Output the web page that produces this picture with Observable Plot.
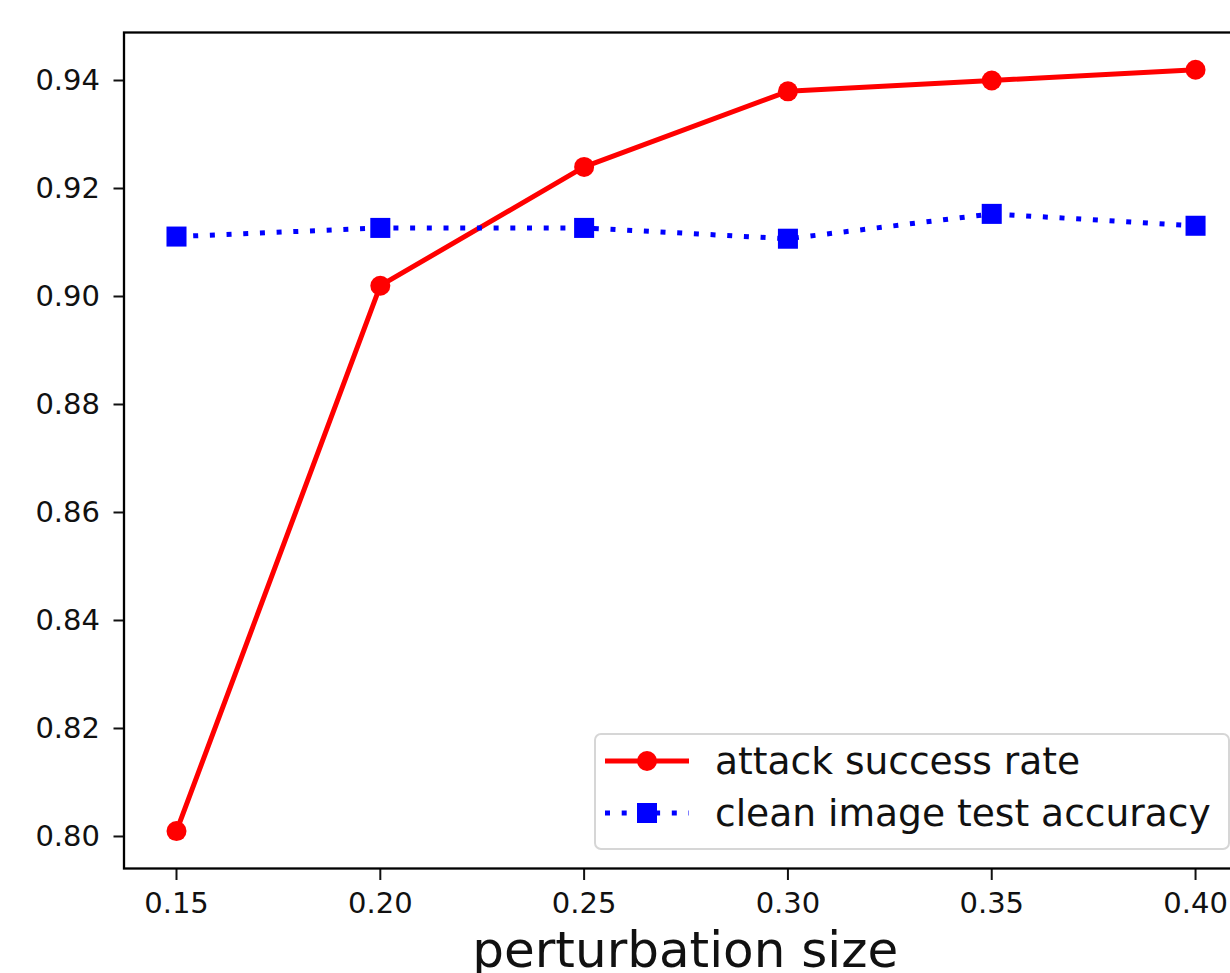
<!DOCTYPE html>
<html>
<head>
<meta charset="utf-8">
<script src="https://cdn.jsdelivr.net/npm/d3@7"></script>
<script src="https://cdn.jsdelivr.net/npm/@observablehq/plot@0.6"></script>
<style>
  html, body { margin: 0; padding: 0; background: white; overflow: hidden; }
  #wrap { position: relative; width: 1230px; height: 973px; overflow: hidden; font-family: "DejaVu Sans", sans-serif; }
  #legend { position: absolute; left: 594px; top: 733px; width: 632px; height: 113px; border: 2px solid #d6d6d6; border-radius: 7px; background: rgba(255,255,255,0.8); box-sizing: content-box; }
  .row { position: absolute; left: 0; height: 52px; display: flex; align-items: center; }
  .row svg { margin-left: 9px; }
  .row span { position: absolute; left: 119px; font-size: 37.6px; color: #111; white-space: nowrap; line-height: 52px; top: 0; }
</style>
</head>
<body>
<div id="wrap"></div>
<script>
// ---- data ----
const perturbation = [0.15, 0.20, 0.25, 0.30, 0.35, 0.40];
const attackSuccessRate = [0.801, 0.902, 0.924, 0.938, 0.940, 0.942];
const cleanTestAccuracy = [0.9111, 0.9127, 0.9127, 0.9107, 0.9153, 0.9131];
const xTicks = [0.15, 0.20, 0.25, 0.30, 0.35, 0.40];
const yTicks = [0.80, 0.82, 0.84, 0.86, 0.88, 0.90, 0.92, 0.94];
const seriesNames = ["attack success rate", "clean image test accuracy"];
const seriesColors = ["#ff0000", "#0000ff"];
const xLabel = "perturbation size";

const attack = perturbation.map((x, i) => ({x, y: attackSuccessRate[i]}));
const clean = perturbation.map((x, i) => ({x, y: cleanTestAccuracy[i]}));
const fmt = d => d.toFixed(2);

const chart = Plot.plot({
  width: 1230,
  height: 973,
  marginLeft: 123.5,
  marginRight: -16,
  marginTop: 32,
  marginBottom: 105,
  style: {fontFamily: "DejaVu Sans", fontSize: "29px", color: "#111", background: "white", overflow: "hidden"},
  x: {domain: [0.13712, 0.4125]},
  y: {domain: [0.79407, 0.94889]},
  marks: [
    Plot.axisX({ticks: xTicks, tickFormat: fmt, tickSize: 12, tickPadding: 12, strokeWidth: 2, label: null, fill: "#111"}),
    Plot.axisY({ticks: yTicks, tickFormat: fmt, tickSize: 10, tickPadding: 14, strokeWidth: 2, label: null, fill: "#111"}),
    Plot.line(attack, {x: "x", y: "y", stroke: seriesColors[0], strokeWidth: 5, strokeLinejoin: "round"}),
    Plot.line(clean, {x: "x", y: "y", stroke: seriesColors[1], strokeWidth: 5, strokeDasharray: "5,11.7", strokeLinecap: "butt"}),
    Plot.dot(attack, {x: "x", y: "y", r: 10, fill: seriesColors[0], symbol: "circle"}),
    Plot.dot(clean, {x: "x", y: "y", r: 11.3, fill: seriesColors[1], symbol: "square"}),
    Plot.frame({stroke: "#000", strokeWidth: 2.3}),
    Plot.text([xLabel], {frameAnchor: "bottom", text: d => d, dy: 98, fontSize: 50, fill: "#111"})
  ]
});

const wrap = document.getElementById("wrap");
wrap.appendChild(chart);

// ---- legend ----
const legend = document.createElement("div");
legend.id = "legend";
const symbols = ["circle", "square"];
seriesNames.forEach((name, i) => {
  const row = document.createElement("div");
  row.className = "row";
  row.style.top = (i * 52) + "px";
  const dash = i === 1 ? 'stroke-dasharray="5,11.7" stroke-linecap="butt"' : '';
  const marker = symbols[i] === "circle"
    ? `<circle cx="42" cy="26" r="10" fill="${seriesColors[i]}"/>`
    : `<rect x="32" y="16" width="20" height="20" fill="${seriesColors[i]}"/>`;
  row.innerHTML = `<svg width="84" height="52"><line x1="0" y1="26" x2="84" y2="26" stroke="${seriesColors[i]}" stroke-width="5" ${dash}/>${marker}</svg><span>${name}</span>`;
  legend.appendChild(row);
});
wrap.appendChild(legend);
</script>
</body>
</html>
